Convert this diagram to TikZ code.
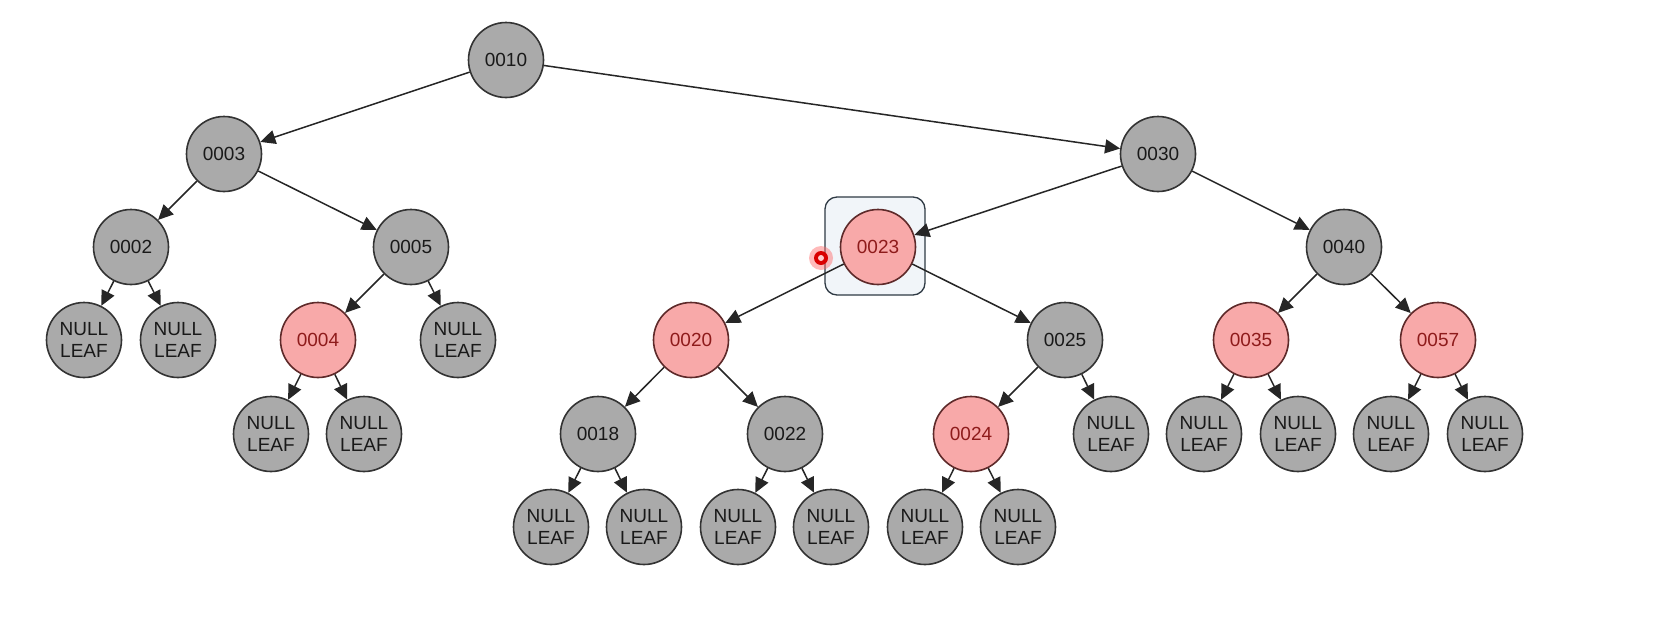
\documentclass[tikz,border=0pt]{standalone}
\usepackage{fontspec}
\setmainfont{Liberation Sans}
\usetikzlibrary{arrows.meta}
\definecolor{nodegray}{HTML}{AAAAAA}
\definecolor{nodepink}{HTML}{F8A9A9}
\definecolor{pinktext}{HTML}{8E1B1B}
\definecolor{pinkborder}{HTML}{5E2A2A}
\definecolor{selfill}{HTML}{F1F5F9}
\definecolor{seldraw}{HTML}{2F3A44}
\begin{document}
\begin{tikzpicture}[x=1pt,y=-1pt,
  blk/.style={circle,draw=black!80,line width=1.6pt,fill=nodegray,minimum size=75pt,inner sep=0pt,font=\fontsize{19}{22}\selectfont,text=black!90},
  red/.style={circle,draw=pinkborder,line width=1.6pt,fill=nodepink,minimum size=75pt,inner sep=0pt,font=\fontsize{19}{22}\selectfont,text=pinktext},
  nil/.style={blk,align=center,font=\fontsize{19}{22}\selectfont},
  edge/.style={-{Triangle[length=15pt,width=14pt]},line width=1.5pt,black!85}]
\useasboundingbox (0,0) rectangle (1674,635);
\fill[white] (0,0) rectangle (1674,635);
% selection highlight
\draw[seldraw,fill=selfill,line width=1.3pt,rounded corners=12pt] (825,197) rectangle (925,295);
% internal nodes
\node[blk] (n10) at (506,60) {0010};
\node[blk] (n3) at (224,154) {0003};
\node[blk] (n30) at (1158,154) {0030};
\node[blk] (n2) at (131,247) {0002};
\node[blk] (n5) at (411,247) {0005};
\node[red] (n23) at (878,247) {0023};
\node[blk] (n40) at (1344,247) {0040};
\node[red] (n4) at (318,340) {0004};
\node[red] (n20) at (691,340) {0020};
\node[blk] (n25) at (1065,340) {0025};
\node[red] (n35) at (1251,340) {0035};
\node[red] (n57) at (1438,340) {0057};
\node[blk] (n18) at (598,434) {0018};
\node[blk] (n22) at (785,434) {0022};
\node[red] (n24) at (971,434) {0024};
% leaves
\node[nil] (l2a) at (84,340) {NULL\\LEAF};
\node[nil] (l2b) at (178,340) {NULL\\LEAF};
\node[nil] (l5b) at (458,340) {NULL\\LEAF};
\node[nil] (l4a) at (271,434) {NULL\\LEAF};
\node[nil] (l4b) at (364,434) {NULL\\LEAF};
\node[nil] (l25b) at (1111,434) {NULL\\LEAF};
\node[nil] (l35a) at (1204,434) {NULL\\LEAF};
\node[nil] (l35b) at (1298,434) {NULL\\LEAF};
\node[nil] (l57a) at (1391,434) {NULL\\LEAF};
\node[nil] (l57b) at (1485,434) {NULL\\LEAF};
\node[nil] (l18a) at (551,527) {NULL\\LEAF};
\node[nil] (l18b) at (644,527) {NULL\\LEAF};
\node[nil] (l22a) at (738,527) {NULL\\LEAF};
\node[nil] (l22b) at (831,527) {NULL\\LEAF};
\node[nil] (l24a) at (925,527) {NULL\\LEAF};
\node[nil] (l24b) at (1018,527) {NULL\\LEAF};
% edges
\foreach \a/\b in {n10/n3,n10/n30,n3/n2,n3/n5,n30/n23,n30/n40,
  n2/l2a,n2/l2b,n5/n4,n5/l5b,n4/l4a,n4/l4b,
  n23/n20,n23/n25,n20/n18,n20/n22,n18/l18a,n18/l18b,n22/l22a,n22/l22b,
  n25/n24,n25/l25b,n24/l24a,n24/l24b,
  n40/n35,n40/n57,n35/l35a,n35/l35b,n57/l57a,n57/l57b}
  \draw[edge] (\a) -- (\b);
% cursor dot
\fill[red!60,opacity=0.45] (821,258) circle (12pt);
\fill[red!85!black] (821,258) circle (7pt);
\fill[white!80!red] (821,258) circle (3pt);
\end{tikzpicture}
\end{document}
